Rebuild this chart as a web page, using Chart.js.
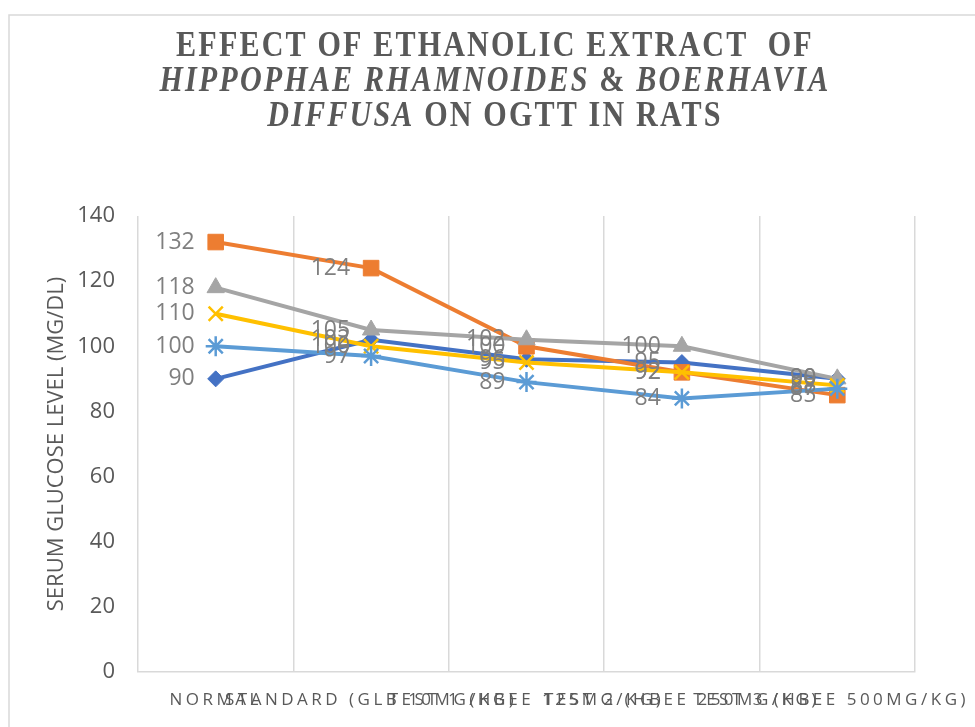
<!DOCTYPE html>
<html>
<head>
<meta charset="utf-8">
<script src="https://cdn.jsdelivr.net/npm/chart.js@4"></script>
<style>
  html, body { margin: 0; padding: 0; background: #fff; }
  #wrap { width: 975px; height: 727px; }
</style>
</head>
<body>
<div id="wrap"><canvas id="ogttChart" width="975" height="727"></canvas></div>
<script>
// groups on the x axis
const groupLabels = [
  'NORMAL',
  'STANDARD (GLB 10MG/KG)',
  'TEST 1 (HBEE 125MG/KG)',
  'TEST 2 (HBEE 250MG/KG)',
  'TEST 3 (HBEE 500MG/KG)'
];

// one series per sampling time
const min0 = [90, 102, 96, 95, 90];
const min30 = [132, 124, 100, 92, 85];
const min60 = [118, 105, 102, 100, 90];
const min90 = [110, 100, 95, 92, 88];
const min120 = [100, 97, 89, 84, 87];

const yTicks = [0, 20, 40, 60, 80, 100, 120, 140];

const titleLines = [
  [{ text: 'EFFECT OF ETHANOLIC EXTRACT  OF', italic: false }],
  [{ text: 'HIPPOPHAE RHAMNOIDES', italic: true }, { text: ' & ', italic: false }, { text: 'BOERHAVIA', italic: true }],
  [{ text: 'DIFFUSA', italic: true }, { text: ' ON OGTT IN RATS', italic: false }]
];

const ctx = document.getElementById('ogttChart').getContext('2d');

function series(label, data, color, style, radius, order) {
  return {
    label: label,
    data: data,
    borderColor: color,
    backgroundColor: color,
    borderWidth: 4,
    pointStyle: style,
    pointRadius: radius,
    pointHoverRadius: radius,
    pointBackgroundColor: color,
    pointBorderColor: color,
    pointBorderWidth: (style === 'crossRot' || style === 'star') ? 2.5 : 1,
    tension: 0,
    order: order
  };
}

// frame, title, x labels and value labels
const decorPlugin = {
  id: 'decor',
  beforeDraw(chart) {
    const c = chart.ctx;
    c.save();
    c.fillStyle = '#ffffff';
    c.fillRect(0, 0, chart.width, chart.height);
    c.strokeStyle = '#D9D9D9';
    c.lineWidth = 1.5;
    c.strokeRect(9, 15, 1100, 1100);
    c.restore();
  },
  afterDraw(chart) {
    const c = chart.ctx;
    // title
    c.save();
    c.fillStyle = '#595959';
    c.textBaseline = 'middle';
    c.textAlign = 'left';
    c.letterSpacing = '2.5px';
    const sx = 0.86;
    const lineY = [47, 82, 117];
    const tfont = 'bold 35px "Liberation Serif", "DejaVu Serif", serif';
    titleLines.forEach((line, li) => {
      let total = 0;
      line.forEach(seg => {
        c.font = (seg.italic ? 'italic ' : '') + tfont;
        seg.w = c.measureText(seg.text).width;
        total += seg.w;
      });
      c.save();
      c.translate(495, lineY[li]);
      c.scale(sx, 1);
      let x = -total / 2;
      line.forEach(seg => {
        c.font = (seg.italic ? 'italic ' : '') + tfont;
        c.fillText(seg.text, x, 0);
        x += seg.w;
      });
      c.restore();
    });
    c.restore();

    // category labels, letter spaced like the original
    const xs = chart.scales.x;
    c.save();
    c.fillStyle = '#595959';
    c.font = '17px "Open Sans", "Noto Sans", sans-serif';
    c.letterSpacing = '3.5px';
    c.textBaseline = 'middle';
    c.textAlign = 'left';
    groupLabels.forEach((lab, i) => {
      const w = c.measureText(lab).width;
      let x = xs.getPixelForValue(i) - w / 2;
      if (x + w > chart.width - 6) x = chart.width - 6 - w;
      c.fillText(lab, x, 700);
    });
    c.restore();
  },
  afterDatasetsDraw(chart) {
    const c = chart.ctx;
    c.save();
    c.fillStyle = '#7F7F7F';
    c.font = '23px "Open Sans", "Noto Sans", sans-serif';
    c.textAlign = 'right';
    c.textBaseline = 'middle';
    chart.data.datasets.forEach((ds, di) => {
      const meta = chart.getDatasetMeta(di);
      meta.data.forEach((pt, i) => {
        c.fillText(String(ds.data[i]), pt.x - 21, pt.y);
      });
    });
    c.restore();
  }
};

new Chart(ctx, {
  type: 'line',
  data: {
    labels: groupLabels,
    datasets: [
      series('0 MIN', min0, '#4472C4', 'rectRot', 8, 5),
      series('30 MIN', min30, '#ED7D31', 'rect', 11, 4),
      series('60 MIN', min60, '#A5A5A5', 'triangle', 10, 3),
      series('90 MIN', min90, '#FFC000', 'crossRot', 10, 2),
      series('120 MIN', min120, '#5B9BD5', 'star', 10, 1)
    ]
  },
  options: {
    responsive: false,
    animation: false,
    layout: { padding: { left: 0, right: 60, top: 216, bottom: 0 } },
    plugins: {
      legend: { display: false },
      title: { display: false },
      tooltip: { enabled: false }
    },
    scales: {
      x: {
        offset: true,
        grid: { display: true, offset: true, color: '#D9D9D9', lineWidth: 1.5, drawTicks: false },
        border: { display: true, color: '#D9D9D9', width: 1.5 },
        ticks: { display: false },
        afterFit(scale) { scale.height = 55; }
      },
      y: {
        min: 0,
        max: 140,
        afterBuildTicks(scale) { scale.ticks = yTicks.map(v => ({ value: v })); },
        grid: { display: false, drawTicks: false },
        border: { display: false },
        ticks: {
          color: '#595959',
          padding: 23,
          font: { family: '"Open Sans", "Noto Sans", sans-serif', size: 22 }
        },
        title: {
          display: true,
          text: 'SERUM GLUCOSE LEVEL (MG/DL)',
          color: '#595959',
          font: { family: '"Open Sans", "Noto Sans", sans-serif', size: 22 },
          padding: { top: 44, bottom: 0 }
        },
        afterFit(scale) { scale.width = 138; }
      }
    }
  },
  plugins: [decorPlugin]
});
</script>
</body>
</html>
